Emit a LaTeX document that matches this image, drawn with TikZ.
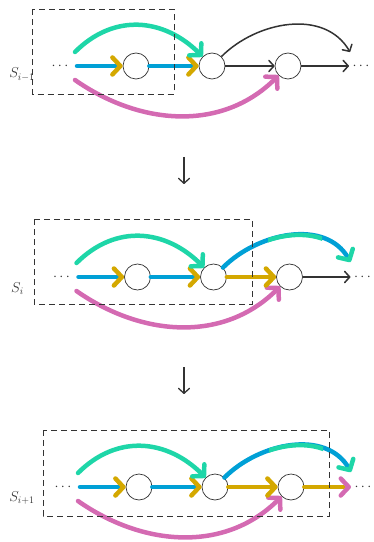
\documentclass[tikz,border=0pt]{standalone}
\usetikzlibrary{arrows.meta}
\definecolor{cy}{HTML}{1ED6A8}
\definecolor{bl}{HTML}{00A0D6}
\definecolor{gd}{HTML}{D4A800}
\definecolor{pk}{HTML}{D46AB2}
\definecolor{dk}{HTML}{333333}
\tikzset{
  vtx/.style={circle, draw=dk, line width=0.7bp, minimum size=26bp, inner sep=0pt, fill=white},
  colline/.style={line width=4.5bp, line cap=round},
  ctip/.style={-{Straight Barb[length=8bp,width=17bp,round,color=#1]}},
  dkline/.style={draw=dk, line width=1.5bp, -{Straight Barb[length=5bp,width=11bp,round]}},
  frame/.style={draw=dk, line width=0.8bp, dash pattern=on 6bp off 4bp},
  lbl/.style={font=\fontsize{14.4}{17}\selectfont, text=dk},
}
\begin{document}
\begin{tikzpicture}[x=1bp,y=1bp]
\useasboundingbox (0,0) rectangle (373,-542);
% ---------- panel 1 ----------
\begin{scope}[shift={(0,-66)}]
  \node[vtx] (a1) at (136,0) {};
  \node[vtx] (b1) at (212,0) {};
  \node[vtx] (c1) at (288,0) {};
  \coordinate (s1) at (77,0);
  \coordinate (t1) at (75,14);
  \coordinate (p1) at (75,-14);
  \coordinate (e1) at (349,0);
  \coordinate (f1) at (350,14);
  \node[lbl, anchor=base] (l1) at (60,-3.6) {$\cdots$};
  \node[lbl, anchor=base] (r1) at (361,-3.6) {$\cdots$};
  \node[lbl, anchor=base] (n1) at (22,-12) {$S_{i-1}$};
  \draw[colline, bl, ctip=gd] (s1) -- (a1);
  \draw[colline, bl, ctip=gd] (a1) -- (b1);
  \draw[colline, cy, ctip=cy] (t1) to[out=45,in=135,looseness=1.1] (b1.north west);
  \draw[colline, pk, ctip=pk] (p1) to[out=-35,in=-135] (c1.south west);
  \draw[dkline] (b1) -- (c1);
  \draw[dkline] (c1) -- (e1);
  \draw[dkline] (b1.north east) to[out=45,in=120] (f1);
\end{scope}
\draw[frame] (32,-9.5) rectangle (174,-94);
% ---------- panel 2 ----------
\begin{scope}[shift={(1.5,-277)}]
  \node[vtx] (a2) at (136,0) {};
  \node[vtx] (b2) at (212,0) {};
  \node[vtx] (c2) at (288,0) {};
  \coordinate (s2) at (77,0);
  \coordinate (t2) at (75,14);
  \coordinate (p2) at (75,-14);
  \coordinate (e2) at (349,0);
  \coordinate (f2) at (349,15);
  \node[lbl, anchor=base] (l2) at (60,-3.6) {$\cdots$};
  \node[lbl, anchor=base] (r2) at (361,-3.6) {$\cdots$};
  \node[lbl, anchor=base] (n2) at (16,-15) {$S_{i}$};
  \draw[colline, bl, ctip=gd] (s2) -- (a2);
  \draw[colline, bl, ctip=gd] (a2) -- (b2);
  \draw[colline, cy, ctip=cy] (t2) to[out=45,in=135,looseness=1.1] (b2.north west);
  \draw[colline, pk, ctip=pk] (p2) to[out=-35,in=-135] (c2.south west);
  \draw[colline, gd, ctip=gd] (b2) -- (c2);
  \draw[dkline] (c2) -- (e2);
  \draw[colline, bl, ctip=cy] (b2.north east) to[out=45,in=120] (f2);
  \begin{scope}
    \clip (266.5,0) rectangle (320.5,60);
    \draw[colline, cy] (b2.north east) to[out=45,in=120] (f2);
  \end{scope}
\end{scope}
\draw[frame] (34,-219) rectangle (252,-304);
% ---------- panel 3 ----------
\begin{scope}[shift={(3,-487)}]
  \node[vtx] (a3) at (136,0) {};
  \node[vtx] (b3) at (212,0) {};
  \node[vtx] (c3) at (288,0) {};
  \coordinate (s3) at (77,0);
  \coordinate (t3) at (75,14);
  \coordinate (p3) at (75,-14);
  \coordinate (e3) at (348,0);
  \coordinate (f3) at (348,15);
  \node[lbl, anchor=base] (l3) at (60,-3.6) {$\cdots$};
  \node[lbl, anchor=base] (r3) at (360,-3.6) {$\cdots$};
  \node[lbl, anchor=base] (n3) at (19,-14) {$S_{i+1}$};
  \draw[colline, bl, ctip=gd] (s3) -- (a3);
  \draw[colline, bl, ctip=gd] (a3) -- (b3);
  \draw[colline, cy, ctip=cy] (t3) to[out=45,in=135,looseness=1.1] (b3.north west);
  \draw[colline, pk, ctip=pk] (p3) to[out=-35,in=-135] (c3.south west);
  \draw[colline, gd, ctip=gd] (b3) -- (c3);
  \draw[colline, gd, ctip=pk] (c3) -- (e3);
  \draw[colline, bl, ctip=cy] (b3.north east) to[out=45,in=120] (f3);
  \begin{scope}
    \clip (266,0) rectangle (320,60);
    \draw[colline, cy] (b3.north east) to[out=45,in=120] (f3);
  \end{scope}
\end{scope}
\draw[frame] (43,-430) rectangle (329,-516);
% ---------- transitions ----------
\coordinate (d1s) at (184,-157);
\coordinate (d1e) at (184,-184);
\coordinate (d2s) at (184,-367);
\coordinate (d2e) at (184,-394);
\draw[dkline, line width=1.3bp] (d1s) -- (d1e);
\draw[dkline, line width=1.3bp] (d2s) -- (d2e);
\end{tikzpicture}
\end{document}
